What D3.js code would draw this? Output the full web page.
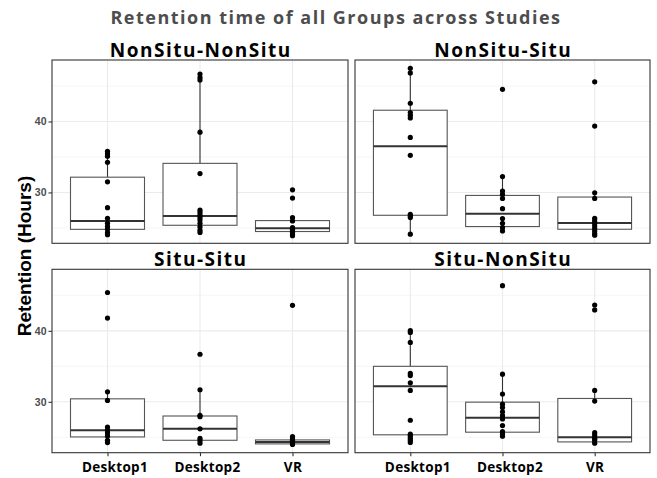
<!DOCTYPE html>
<html>
<head>
<meta charset="utf-8">
<script src="https://cdn.jsdelivr.net/npm/d3@7"></script>
<style>
  html, body { margin: 0; padding: 0; background: #fff; }
  svg { display: block; }
</style>
</head>
<body>
<div id="chart"></div>
<script>
// ---------------- data ----------------
const panels = ["NonSitu-NonSitu", "NonSitu-Situ", "Situ-Situ", "Situ-NonSitu"];
const groups = ["Desktop1", "Desktop2", "VR"];
const yTicks = [30, 40];
const yMinorTicks = [25, 35, 45];
const chartTitle = "Retention time of all Groups across Studies";
const yTitle = "Retention (Hours)";

// individual observations (hours)
const nnDesktop1 = [35.8, 35.45, 35.1, 34.25, 31.5, 27.85, 26.35, 25.65, 25.2, 24.8, 24.35, 24.05];
const nnDesktop2 = [46.68, 46.2, 45.84, 38.5, 32.66, 27.5, 27.15, 26.78, 26.45, 26.1, 25.65, 25.14, 24.67, 24.35];
const nnVR       = [30.37, 29.2, 26.45, 25.98, 25.05, 24.8, 24.58, 24.35, 24.07, 23.9];

const nsDesktop1 = [47.5, 46.85, 42.57, 41.26, 40.89, 40.51, 37.76, 35.23, 26.92, 26.68, 26.45, 24.11];
const nsDesktop2 = [44.53, 32.24, 30.19, 29.72, 29.16, 27.71, 26.31, 25.65, 25.05, 24.58];
const nsVR       = [45.6, 39.35, 29.95, 29.16, 26.35, 25.98, 25.65, 25.28, 24.91, 24.58, 24.21, 23.97];

const ssDesktop1 = [45.4, 41.8, 31.4, 30.19, 26.45, 26.02, 25.65, 25.19, 24.58, 24.25];
const ssDesktop2 = [36.7, 31.7, 28.1, 27.9, 26.2, 24.86, 24.53, 24.16];
const ssVR       = [43.6, 25.1, 24.81, 24.58, 24.39, 24.2, 24.0];

const snDesktop1 = [40.05, 39.77, 38.37, 34.0, 33.7, 32.67, 31.6, 27.4, 25.44, 25.2, 24.88, 24.6, 24.28];
const snDesktop2 = [46.36, 33.9, 31.1, 29.67, 29.2, 28.6, 28.05, 27.58, 26.65, 25.81, 25.47, 25.16];
const snVR       = [43.64, 42.94, 31.6, 30.1, 25.65, 25.33, 24.95, 24.72, 24.49, 24.16];

// box statistics [lower whisker, Q1, median, Q3, upper whisker] per group
const nnBoxes = [[24.05, 24.8, 25.98, 32.15, 35.8], [24.35, 25.37, 26.68, 34.1, 46.68], [23.9, 24.49, 24.95, 26.03, 26.45]];
const nsBoxes = [[24.11, 26.78, 36.5, 41.59, 47.5], [24.58, 25.19, 27.0, 29.58, 32.24], [23.97, 24.81, 25.7, 29.35, 29.95]];
const ssBoxes = [[24.25, 25.05, 26.0, 30.42, 31.4], [24.16, 24.58, 26.2, 28.0, 31.7], [24.0, 24.07, 24.35, 24.63, 25.1]];
const snBoxes = [[24.28, 25.35, 32.2, 35.0, 40.05], [25.16, 25.72, 27.77, 29.95, 33.9], [24.16, 24.35, 25.0, 30.47, 31.6]];

const panelPoints = [
  [nnDesktop1, nnDesktop2, nnVR],
  [nsDesktop1, nsDesktop2, nsVR],
  [ssDesktop1, ssDesktop2, ssVR],
  [snDesktop1, snDesktop2, snVR]
];
const panelBoxes = [nnBoxes, nsBoxes, ssBoxes, snBoxes];

// ---------------- layout ----------------
const W = 657, H = 478;
const colX = [[52, 348], [355, 650]];
const rowY = [[60, 243.3], [269.3, 452.7]];
const yDomain = [22.83, 48.67];

const svg = d3.select("#chart").append("svg")
  .attr("width", W).attr("height", H)
  .attr("viewBox", `0 0 ${W} ${H}`);

const bioFont = "'Open Sans', Lato, sans-serif";
const axFont = "'Liberation Sans', Arial, sans-serif";

// title
svg.append("text")
  .attr("x", 336).attr("y", 24)
  .attr("text-anchor", "middle")
  .attr("font-family", bioFont).attr("font-weight", "bold")
  .attr("font-size", 18).attr("letter-spacing", 1.5).attr("fill", "#4d4d4d")
  .text(chartTitle);

// y-axis title
svg.append("text")
  .attr("transform", "translate(31,256) rotate(-90)")
  .attr("text-anchor", "middle")
  .attr("font-family", axFont).attr("font-weight", "bold")
  .attr("font-size", 19).attr("fill", "#000")
  .text(yTitle);

panels.forEach((name, i) => {
  const col = i % 2, row = Math.floor(i / 2);
  const [x0, x1] = colX[col];
  const [y0, y1] = rowY[row];

  const x = d3.scalePoint().domain(groups).range([x0, x1]).padding(0.6);
  const y = d3.scaleLinear().domain(yDomain).range([y1, y0]);
  const bw = x.step() * 0.8;

  const g = svg.append("g");

  g.append("rect").attr("x", x0).attr("y", y0)
    .attr("width", x1 - x0).attr("height", y1 - y0).attr("fill", "#fff");

  // minor grid
  g.selectAll(".gmin").data(yMinorTicks).join("line")
    .attr("x1", x0).attr("x2", x1)
    .attr("y1", d => y(d)).attr("y2", d => y(d))
    .attr("stroke", "#f0f0f0").attr("stroke-width", 0.6);
  // major grid
  g.selectAll(".gmaj").data(yTicks).join("line")
    .attr("x1", x0).attr("x2", x1)
    .attr("y1", d => y(d)).attr("y2", d => y(d))
    .attr("stroke", "#ebebeb").attr("stroke-width", 1.1);
  g.selectAll(".gv").data(groups).join("line")
    .attr("x1", d => x(d)).attr("x2", d => x(d))
    .attr("y1", y0).attr("y2", y1)
    .attr("stroke", "#ebebeb").attr("stroke-width", 1.1);

  // boxes
  const boxes = panelBoxes[i];
  groups.forEach((grp, k) => {
    const [lo, q1, med, q3, hi] = boxes[k];
    const cx = x(grp);
    g.append("line").attr("x1", cx).attr("x2", cx)
      .attr("y1", y(q3)).attr("y2", y(hi))
      .attr("stroke", "#333").attr("stroke-width", 1.1);
    g.append("line").attr("x1", cx).attr("x2", cx)
      .attr("y1", y(q1)).attr("y2", y(lo))
      .attr("stroke", "#333").attr("stroke-width", 1.1);
    g.append("rect")
      .attr("x", cx - bw / 2).attr("y", y(q3))
      .attr("width", bw).attr("height", Math.max(0.5, y(q1) - y(q3)))
      .attr("fill", "#fff").attr("stroke", "#555").attr("stroke-width", 1.1);
    g.append("line")
      .attr("x1", cx - bw / 2).attr("x2", cx + bw / 2)
      .attr("y1", y(med)).attr("y2", y(med))
      .attr("stroke", "#333").attr("stroke-width", 2);
  });

  // points
  groups.forEach((grp, k) => {
    g.selectAll(null).data(panelPoints[i][k]).join("circle")
      .attr("cx", x(grp)).attr("cy", d => y(d))
      .attr("r", 2.6).attr("fill", "#000");
  });

  // panel border
  g.append("rect").attr("x", x0).attr("y", y0)
    .attr("width", x1 - x0).attr("height", y1 - y0)
    .attr("fill", "none").attr("stroke", "#333").attr("stroke-width", 1.1);

  // strip title
  g.append("text")
    .attr("x", (x0 + x1) / 2 + 0.75).attr("y", y0 - 3)
    .attr("text-anchor", "middle")
    .attr("font-family", bioFont).attr("font-weight", "bold")
    .attr("font-size", 19).attr("letter-spacing", 1.5).attr("fill", "#000")
    .text(name);

  // y axis (left column only)
  if (col === 0) {
    const ya = d3.axisLeft(y).tickValues(yTicks).tickSize(3.5).tickPadding(2).tickFormat(d3.format("d"));
    const ag = g.append("g").attr("transform", `translate(${x0},0)`).call(ya);
    ag.select(".domain").remove();
    ag.selectAll(".tick line").attr("stroke", "#333").attr("stroke-width", 1.1);
    ag.selectAll(".tick text")
      .attr("font-family", axFont).attr("font-weight", "bold")
      .attr("font-size", 10.5).attr("fill", "#4d4d4d");
  }
  // x axis (bottom row only)
  if (row === 1) {
    const xa = d3.axisBottom(x).tickSize(3.5).tickPadding(6.5);
    const ag = g.append("g").attr("transform", `translate(0,${y1})`).call(xa);
    ag.select(".domain").remove();
    ag.selectAll(".tick line").attr("stroke", "#333").attr("stroke-width", 1.1);
    ag.selectAll(".tick text")
      .attr("font-family", bioFont).attr("font-weight", "bold")
      .attr("font-size", 13.5).attr("letter-spacing", 0.3).attr("fill", "#000")
      .attr("dx", d => d.length > 2 ? 7 : 0);
  }
});
</script>
</body>
</html>
